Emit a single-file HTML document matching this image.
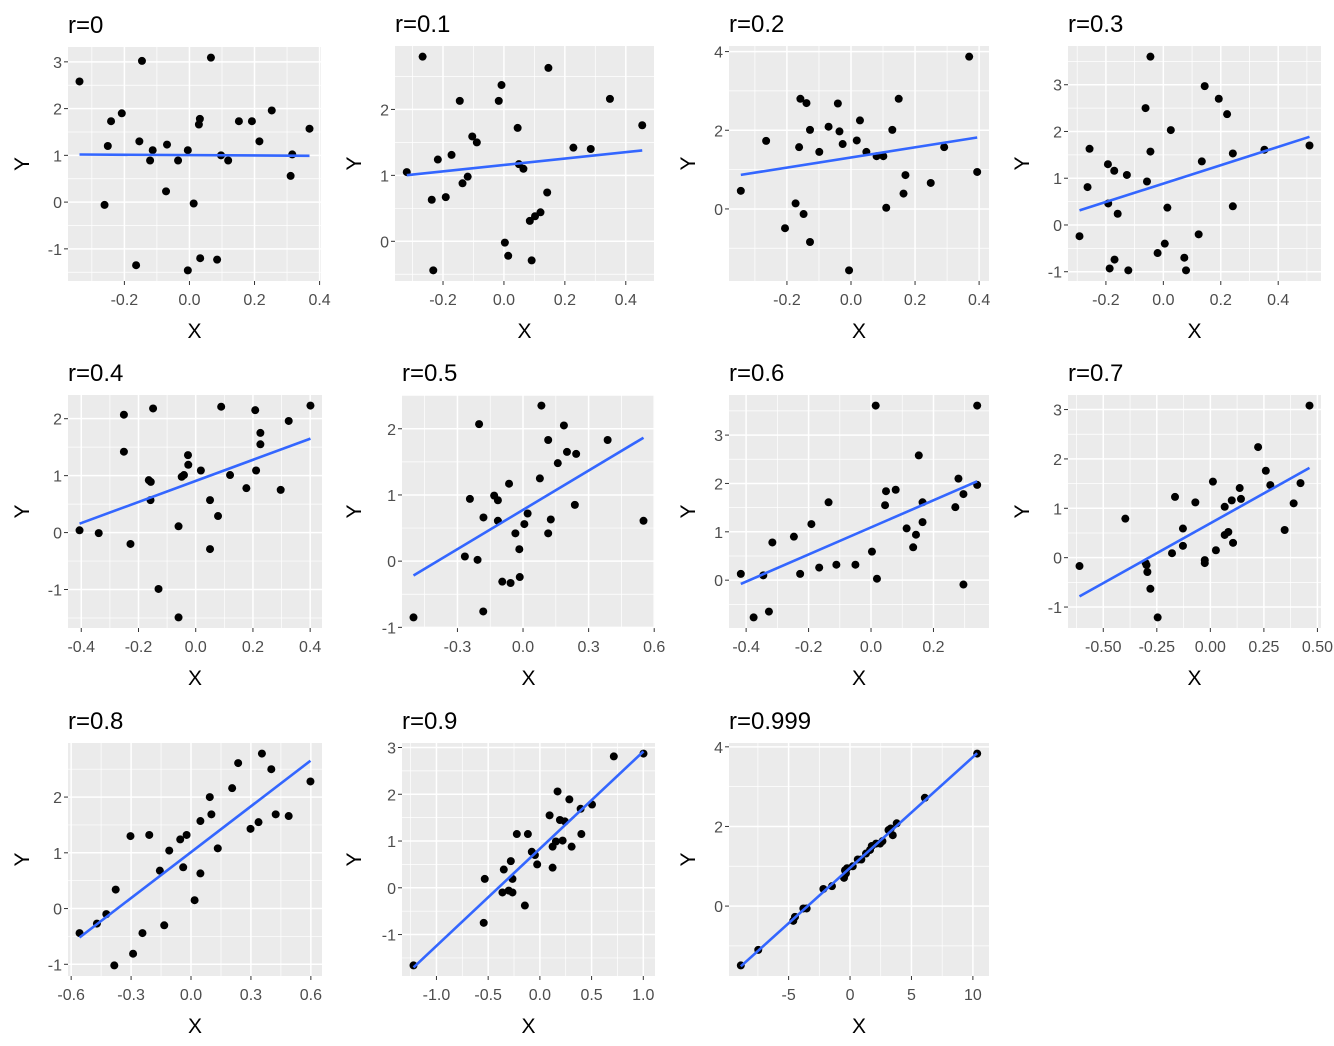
<!DOCTYPE html>
<html><head><meta charset="utf-8"><style>
body{margin:0;background:#fff;}
svg{display:block;font-family:"Liberation Sans",sans-serif;}
</style></head><body>
<svg id="chart" width="1334" height="1046" viewBox="0 0 1334 1046"></svg>
<script>
const titles=["r=0","r=0.1","r=0.2","r=0.3","r=0.4","r=0.5","r=0.6","r=0.7","r=0.8","r=0.9","r=0.999"];
const x1=[-0.338,-0.146,0.066,-0.241,-0.208,-0.251,-0.154,-0.113,-0.121,-0.069,-0.035,-0.005,-0.072,-0.261,0.013,-0.164,-0.005,0.033,0.085,0.029,0.032,0.097,0.119,0.152,0.192,0.253,0.215,0.316,0.311,0.369];
const y1=[2.58,3.02,3.09,1.73,1.90,1.20,1.30,1.11,0.89,1.23,0.89,1.11,0.23,-0.06,-0.03,-1.35,-1.46,-1.20,-1.23,1.66,1.78,1.0,0.89,1.73,1.73,1.96,1.30,1.02,0.56,1.57];
const x2=[-0.319,-0.267,-0.217,-0.237,-0.232,-0.191,-0.172,-0.145,-0.136,-0.119,-0.104,-0.089,-0.017,-0.008,0.003,0.014,0.045,0.049,0.064,0.085,0.091,0.102,0.120,0.142,0.146,0.228,0.285,0.348,0.454];
const y2=[1.05,2.80,1.24,0.63,-0.44,0.67,1.31,2.13,0.88,0.98,1.59,1.50,2.13,2.37,-0.02,-0.22,1.72,1.17,1.10,0.31,-0.29,0.38,0.44,0.74,2.63,1.42,1.40,2.16,1.76];
const x3=[-0.344,-0.265,-0.206,-0.173,-0.162,-0.158,-0.148,-0.139,-0.128,-0.128,-0.099,-0.070,-0.041,-0.036,-0.026,-0.006,0.018,0.028,0.048,0.080,0.101,0.110,0.129,0.149,0.164,0.170,0.249,0.291,0.369,0.394];
const y3=[0.46,1.73,-0.49,0.14,1.57,2.80,-0.13,2.69,2.01,-0.84,1.45,2.09,2.68,1.97,1.65,-1.56,1.74,2.25,1.45,1.34,1.34,0.03,2.01,2.80,0.39,0.86,0.66,1.57,3.87,0.94];
const x4=[-0.292,-0.264,-0.257,-0.193,-0.192,-0.187,-0.171,-0.170,-0.159,-0.127,-0.122,-0.062,-0.057,-0.045,-0.045,-0.020,0.005,0.014,0.026,0.073,0.079,0.123,0.134,0.144,0.193,0.222,0.242,0.242,0.352,0.509];
const y4=[-0.24,0.81,1.63,1.30,0.46,-0.93,1.16,-0.74,0.24,1.07,-0.97,2.50,0.93,3.60,1.57,-0.60,-0.40,0.37,2.03,-0.70,-0.97,-0.20,1.36,2.97,2.70,2.37,1.53,0.40,1.61,1.70];
const x5=[-0.406,-0.339,-0.251,-0.251,-0.228,-0.149,-0.164,-0.157,-0.158,-0.130,-0.060,-0.060,-0.049,-0.041,-0.027,-0.026,0.018,0.050,0.050,0.078,0.089,0.120,0.177,0.208,0.211,0.226,0.226,0.297,0.325,0.401];
const y5=[0.04,-0.01,2.07,1.42,-0.20,2.18,0.92,0.89,0.57,-0.99,0.11,-1.49,0.98,1.01,1.36,1.19,1.09,0.57,-0.29,0.29,2.21,1.01,0.78,2.15,1.09,1.75,1.55,0.75,1.96,2.23];
const x6=[-0.501,-0.266,-0.243,-0.208,-0.201,-0.182,-0.181,-0.132,-0.115,-0.115,-0.095,-0.064,-0.057,-0.035,-0.017,-0.015,0.006,0.021,0.077,0.084,0.115,0.115,0.127,0.159,0.187,0.201,0.243,0.237,0.387,0.551];
const y6=[-0.85,0.07,0.94,0.02,2.07,-0.76,0.66,0.99,0.92,0.61,-0.31,1.17,-0.33,0.42,0.18,-0.24,0.56,0.72,1.25,2.35,1.83,0.42,0.63,1.48,2.05,1.65,1.62,0.85,1.83,0.61];
const x7=[-0.417,-0.376,-0.345,-0.327,-0.316,-0.247,-0.227,-0.191,-0.166,-0.136,-0.111,-0.050,0.003,0.015,0.019,0.045,0.048,0.079,0.114,0.135,0.144,0.153,0.165,0.165,0.270,0.280,0.296,0.296,0.340,0.340];
const y7=[0.13,-0.77,0.10,-0.65,0.78,0.90,0.13,1.16,0.26,1.61,0.32,0.32,0.59,3.61,0.03,1.55,1.84,1.87,1.07,0.68,0.94,2.58,1.61,1.20,1.51,2.10,1.78,-0.09,1.97,3.61];
const x8=[-0.611,-0.397,-0.302,-0.298,-0.294,-0.280,-0.246,-0.179,-0.165,-0.128,-0.128,-0.070,-0.026,-0.026,0.012,0.026,0.067,0.067,0.084,0.100,0.106,0.137,0.143,0.223,0.259,0.280,0.347,0.389,0.421,0.463];
const y8=[-0.17,0.79,-0.11,-0.15,-0.29,-0.63,-1.21,0.09,1.23,0.59,0.24,1.12,-0.05,-0.11,1.54,0.15,1.03,0.46,0.52,1.16,0.30,1.41,1.19,2.24,1.76,1.47,0.56,1.10,1.51,3.08];
const x9=[-0.558,-0.471,-0.424,-0.377,-0.384,-0.303,-0.290,-0.243,-0.209,-0.156,-0.134,-0.109,-0.054,-0.039,-0.022,0.018,0.047,0.047,0.094,0.102,0.134,0.206,0.236,0.298,0.338,0.355,0.402,0.424,0.489,0.598];
const y9=[-0.44,-0.27,-0.10,0.34,-1.02,1.30,-0.81,-0.44,1.32,0.68,-0.30,1.04,1.24,0.74,1.32,0.15,1.57,0.63,2.00,1.69,1.08,2.16,2.61,1.43,1.55,2.78,2.50,1.69,1.66,2.28];
const x10=[-1.222,-0.533,-0.543,-0.349,-0.362,-0.281,-0.301,-0.265,-0.265,-0.223,-0.145,-0.116,-0.078,-0.048,-0.026,0.094,0.123,0.123,0.155,0.171,0.194,0.220,0.242,0.285,0.307,0.394,0.401,0.504,0.715,1.002];
const y10=[-1.66,0.19,-0.75,0.39,-0.10,0.57,-0.06,0.19,-0.10,1.15,-0.38,1.15,0.77,0.70,0.50,1.55,0.43,0.88,0.99,2.06,1.45,1.01,1.42,1.89,0.88,1.69,1.15,1.78,2.81,2.87];
const x11=[-8.89,-7.47,-4.62,-4.48,-3.80,-3.53,-2.17,-1.47,-0.49,-0.41,-0.33,-0.24,0.22,0.63,0.92,1.30,1.63,1.77,2.12,2.45,2.64,3.13,3.32,3.48,3.80,6.09,10.35];
const y11=[-1.49,-1.10,-0.37,-0.27,-0.06,-0.06,0.43,0.50,0.71,0.90,0.82,0.95,1.00,1.17,1.17,1.32,1.41,1.51,1.57,1.57,1.63,1.91,1.95,1.78,2.08,2.72,3.83];
const xs=[x1,x2,x3,x4,x5,x6,x7,x8,x9,x10,x11];
const ys=[y1,y2,y3,y4,y5,y6,y7,y8,y9,y10,y11];
const xTicks=[[-0.2,0,0.2,0.4],[-0.2,0,0.2,0.4],[-0.2,0,0.2,0.4],[-0.2,0,0.2,0.4],[-0.4,-0.2,0,0.2,0.4],[-0.3,0,0.3,0.6],[-0.4,-0.2,0,0.2],[-0.5,-0.25,0,0.25,0.5],[-0.6,-0.3,0,0.3,0.6],[-1,-0.5,0,0.5,1],[-5,0,5,10]];
const xTickLabels=[["-0.2","0.0","0.2","0.4"],["-0.2","0.0","0.2","0.4"],["-0.2","0.0","0.2","0.4"],["-0.2","0.0","0.2","0.4"],["-0.4","-0.2","0.0","0.2","0.4"],["-0.3","0.0","0.3","0.6"],["-0.4","-0.2","0.0","0.2"],["-0.50","-0.25","0.00","0.25","0.50"],["-0.6","-0.3","0.0","0.3","0.6"],["-1.0","-0.5","0.0","0.5","1.0"],["-5","0","5","10"]];
const yTicks=[[-1,0,1,2,3],[0,1,2],[0,2,4],[-1,0,1,2,3],[-1,0,1,2],[-1,0,1,2],[0,1,2,3],[-1,0,1,2,3],[-1,0,1,2],[-1,0,1,2,3],[0,2,4]];

const panels=[[68,47,321,281],[395,46,654,281],[729,46,989,281],[1068,46,1321,281],
[68,395,322,628],[402,395,655,628],[729,395,989,628],[1068,395,1321,628],
[68,743,322,976],[402,743,655,976],[729,743,989,976]];
const yTitleX=[22,354,688,1022];
const NS="http://www.w3.org/2000/svg";
const svg=document.getElementById('chart');
function mk(tag,attrs,parent){const e=document.createElementNS(NS,tag);for(const k in attrs)e.setAttribute(k,attrs[k]);(parent||svg).appendChild(e);return e;}

for(let p=0;p<11;p++){
  const [L,T,R,B]=panels[p];
  const X=xs[p],Y=ys[p];
  const xmin=Math.min(...X),xmax=Math.max(...X),ymin=Math.min(...Y),ymax=Math.max(...Y);
  const xd0=xmin-(xmax-xmin)*0.05,xd1=xmax+(xmax-xmin)*0.05;
  const yd0=ymin-(ymax-ymin)*0.05,yd1=ymax+(ymax-ymin)*0.05;
  const sx=v=>L+(v-xd0)/(xd1-xd0)*(R-L);
  const sy=v=>B-(v-yd0)/(yd1-yd0)*(B-T);
  const g=mk('g',{});
  
  
  const bg=mk('rect',{x:L,y:T,width:R-L,height:B-T,fill:'#ebebeb'},g);
  
  
  const xt=xTicks[p],yt=yTicks[p];
  const minor=(t,lo,hi)=>{const st=t[1]-t[0];const out=[];for(let v=t[0]-st/2;v<=t[t.length-1]+st;v+=st){if(v>lo&&v<hi)out.push(v);}return out;};
  minor(xt,xd0,xd1).forEach(v=>{mk('line',{x1:sx(v),x2:sx(v),y1:T,y2:B,stroke:'#fff','stroke-width':0.7},g);});
  minor(yt,yd0,yd1).forEach(v=>{mk('line',{x1:L,x2:R,y1:sy(v),y2:sy(v),stroke:'#fff','stroke-width':0.7},g);});
  xt.forEach((v,i)=>{
    mk('line',{x1:sx(v),x2:sx(v),y1:T,y2:B,stroke:'#fff','stroke-width':1.5},g);
    mk('line',{x1:sx(v),x2:sx(v),y1:B,y2:B+4,stroke:'#333','stroke-width':1},g);
    const t=mk('text',{x:sx(v),y:B+24,'text-anchor':'middle','font-size':16,fill:'#4d4d4d'},g);
    t.textContent=xTickLabels[p][i];
    
    
  });
  yt.forEach(v=>{
    mk('line',{x1:L,x2:R,y1:sy(v),y2:sy(v),stroke:'#fff','stroke-width':1.5},g);
    mk('line',{x1:L-4,x2:L,y1:sy(v),y2:sy(v),stroke:'#333','stroke-width':1},g);
    const t=mk('text',{x:L-6,y:sy(v)+6,'text-anchor':'end','font-size':16,fill:'#4d4d4d'},g);
    t.textContent=String(v);
    
    
  });
  X.forEach((v,i)=>{
    const c=mk('circle',{cx:sx(v),cy:sy(Y[i]),r:4,fill:'#000'},g);
    
    
  });
  const n=X.length,mx=X.reduce((a,b)=>a+b)/n,my=Y.reduce((a,b)=>a+b)/n;
  let sxy=0,sxx=0;for(let i=0;i<n;i++){sxy+=(X[i]-mx)*(Y[i]-my);sxx+=(X[i]-mx)**2;}
  const b=sxy/sxx,a=my-b*mx;
  const ln=mk('line',{x1:sx(xmin),y1:sy(a+b*xmin),x2:sx(xmax),y2:sy(a+b*xmax),stroke:'#3366ff','stroke-width':2.6},g);
  
  
  const tt=mk('text',{x:L,y:T-14,'font-size':24,fill:'#000'},g);
  tt.textContent=titles[p];
  
  
  const xl=mk('text',{x:(L+R)/2,y:B+57,'text-anchor':'middle','font-size':21,fill:'#000'},g);
  xl.textContent='X';
  
  
  const yx=yTitleX[p%4],yc=(T+B)/2;
  const yl=mk('text',{x:yx,y:yc,'text-anchor':'middle','font-size':21,fill:'#000',transform:`rotate(-90 ${yx} ${yc})`,dy:7},g);
  yl.textContent='Y';
  
  
}
</script>
</body></html>
